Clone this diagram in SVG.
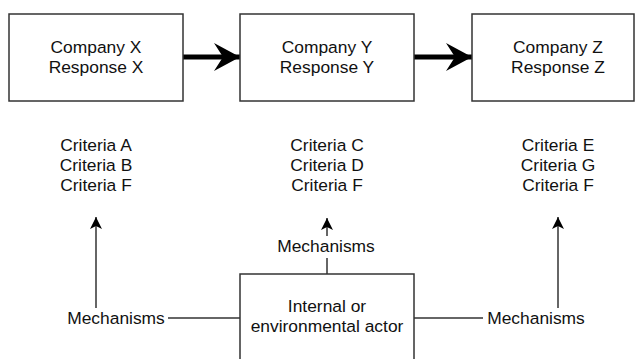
<svg xmlns="http://www.w3.org/2000/svg" width="635" height="359" viewBox="0 0 635 359">
<style>
.box{fill:#fff;stroke:#333;stroke-width:1.5}
.t{font-family:"Liberation Sans",Arial,sans-serif;font-size:17.4px;fill:#111;text-anchor:middle}
.ln{fill:none;stroke:#333;stroke-width:1.5}
.thick{fill:none;stroke:#000;stroke-width:5}
</style>
<defs>
<marker id="big" markerUnits="userSpaceOnUse" markerWidth="30" markerHeight="32" refX="27" refY="15" orient="auto">
<path d="M1,1 L27,15 L1,29 L10,15 Z" fill="#000"/>
</marker>
<marker id="small" markerUnits="userSpaceOnUse" markerWidth="14" markerHeight="14" refX="12" refY="6" orient="auto">
<path d="M0,0 L12,6 L0,12 L3,6 Z" fill="#000"/>
</marker>
</defs>
<rect width="635" height="359" fill="#fff"/>
<g id="connectors">
<line class="thick" x1="183" y1="57" x2="240" y2="57" marker-end="url(#big)"/>
<line class="thick" x1="414" y1="57" x2="472" y2="57" marker-end="url(#big)"/>
<line class="ln" x1="96" y1="308" x2="96" y2="217" marker-end="url(#small)"/>
<line class="ln" x1="558" y1="308" x2="558" y2="217" marker-end="url(#small)"/>
<line class="ln" x1="327" y1="236" x2="327" y2="218" marker-end="url(#small)"/>
<line class="ln" x1="327" y1="274" x2="327" y2="258"/>
<line class="ln" x1="168" y1="318" x2="240" y2="318"/>
<line class="ln" x1="414" y1="318" x2="483" y2="318"/>
</g>
<g id="companyX">
<rect class="box" x="9" y="14" width="174" height="87"/>
<text class="t" x="96" y="53">Company X</text>
<text class="t" x="96" y="73">Response X</text>
</g>
<g id="companyY">
<rect class="box" x="240" y="14" width="174" height="87"/>
<text class="t" x="327" y="53">Company Y</text>
<text class="t" x="327" y="73">Response Y</text>
</g>
<g id="companyZ">
<rect class="box" x="472" y="14" width="162" height="87"/>
<text class="t" x="558" y="53">Company Z</text>
<text class="t" x="558" y="73">Response Z</text>
</g>
<g id="criteriaX">
<text class="t" x="96" y="151">Criteria A</text>
<text class="t" x="96" y="171">Criteria B</text>
<text class="t" x="96" y="191">Criteria F</text>
</g>
<g id="criteriaY">
<text class="t" x="327" y="151">Criteria C</text>
<text class="t" x="327" y="171">Criteria D</text>
<text class="t" x="327" y="191">Criteria F</text>
</g>
<g id="criteriaZ">
<text class="t" x="558" y="151">Criteria E</text>
<text class="t" x="558" y="171">Criteria G</text>
<text class="t" x="558" y="191">Criteria F</text>
</g>
<g id="mechLeft"><text class="t" x="116" y="324">Mechanisms</text></g>
<g id="mechMid"><text class="t" x="326" y="252">Mechanisms</text></g>
<g id="mechRight"><text class="t" x="536" y="324">Mechanisms</text></g>
<g id="actor">
<rect class="box" x="240" y="274" width="174" height="100"/>
<text class="t" x="327" y="312">Internal or</text>
<text class="t" x="327" y="332">environmental actor</text>
</g>
</svg>
